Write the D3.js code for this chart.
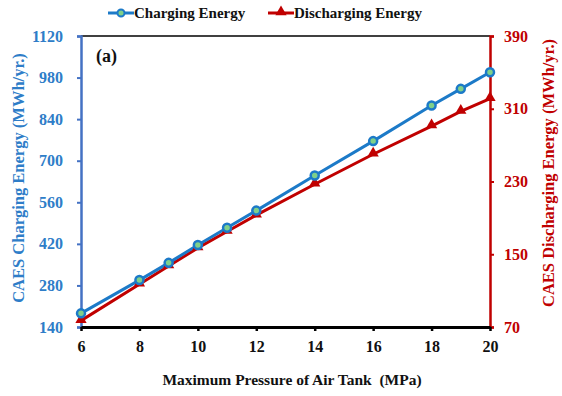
<!DOCTYPE html>
<html>
<head>
<meta charset="utf-8">
<script src="https://cdn.jsdelivr.net/npm/d3@7/dist/d3.min.js"></script>
<style>
  body { margin: 0; background: #fff; }
  text { font-family: "Liberation Serif", "Times New Roman", serif; font-weight: bold; }
</style>
</head>
<body>
<svg id="chart" width="562" height="396"></svg>
<script>
// data
var pressure = [6, 8, 9, 10, 11, 12, 14, 16, 18, 19, 20];
var charging = [186, 298, 356, 416, 474, 532, 650, 766, 886, 942, 998];
var discharging = [77, 117, 137, 157, 175, 193, 227, 260, 291, 307, 321];
var xTicks = [6, 8, 10, 12, 14, 16, 18, 20];
var leftTicks = [140, 280, 420, 560, 700, 840, 980, 1120];
var rightTicks = [70, 150, 230, 310, 390];

var blue = "#1c7ac8", blueAxis = "#4472c4", blueText = "#2e7dc8", red = "#c00000";

var svg = d3.select("#chart");
var pLeft = 81, pRight = 490, pTop = 36, pBottom = 327;

var x = d3.scaleLinear().domain([6, 20]).range([pLeft, pRight]);
var yL = d3.scaleLinear().domain([140, 1120]).range([pBottom, pTop]);
var yR = d3.scaleLinear().domain([70, 390]).range([pBottom, pTop]);

// top frame line
svg.append("line").attr("x1", pLeft).attr("x2", pRight).attr("y1", pTop).attr("y2", pTop)
  .attr("stroke", "#000").attr("stroke-width", 1.5);

// left axis
var gL = svg.append("g").attr("transform", "translate(" + pLeft + ",0)")
  .call(d3.axisLeft(yL).tickValues(leftTicks).tickFormat(d3.format("d")).tickSize(4).tickPadding(14));
gL.select(".domain").attr("stroke", blueAxis).attr("stroke-width", 2.5);
gL.selectAll(".tick line").attr("stroke", blueAxis).attr("stroke-width", 2);
gL.selectAll(".tick text").attr("fill", blueText).attr("font-size", 16)
  .style("font-family", "Liberation Serif").style("font-weight", "bold");

// right axis
var gR = svg.append("g").attr("transform", "translate(" + pRight + ",0)")
  .call(d3.axisRight(yR).tickValues(rightTicks).tickSize(4).tickPadding(10));
gR.select(".domain").attr("stroke", red).attr("stroke-width", 2.5);
gR.selectAll(".tick line").attr("stroke", red).attr("stroke-width", 2);
gR.selectAll(".tick text").attr("fill", red).attr("font-size", 16)
  .style("font-family", "Liberation Serif").style("font-weight", "bold");

// bottom axis
var gX = svg.append("g").attr("transform", "translate(0," + pBottom + ")")
  .call(d3.axisBottom(x).tickValues(xTicks).tickSize(4).tickPadding(10).tickSizeOuter(0));
gX.select(".domain").attr("stroke", "#000").attr("stroke-width", 3);
gX.selectAll(".tick line").attr("stroke", "#000").attr("stroke-width", 2.5);
gX.selectAll(".tick text").attr("fill", "#111").attr("font-size", 16)
  .style("font-family", "Liberation Serif").style("font-weight", "bold");

// lines
var lineC = d3.line().x(function(d, i) { return x(pressure[i]); }).y(function(d) { return yL(d); });
var lineD = d3.line().x(function(d, i) { return x(pressure[i]); }).y(function(d) { return yR(d); });

svg.append("path").datum(discharging).attr("d", lineD)
  .attr("fill", "none").attr("stroke", red).attr("stroke-width", 3);
svg.append("path").datum(charging).attr("d", lineC)
  .attr("fill", "none").attr("stroke", blue).attr("stroke-width", 3);

var tri = d3.symbol().type(d3.symbolTriangle).size(55);
svg.selectAll(".tri").data(discharging).enter().append("path")
  .attr("d", tri)
  .attr("transform", function(d, i) { return "translate(" + x(pressure[i]) + "," + (yR(d) - 1) + ")"; })
  .attr("fill", red);

svg.selectAll(".dot").data(charging).enter().append("circle")
  .attr("cx", function(d, i) { return x(pressure[i]); })
  .attr("cy", function(d) { return yL(d); })
  .attr("r", 4).attr("fill", "#7fd08a").attr("stroke", blue).attr("stroke-width", 2.5);

// legend
var lg = svg.append("g");
lg.append("line").attr("x1", 108).attr("x2", 134).attr("y1", 13).attr("y2", 13)
  .attr("stroke", blue).attr("stroke-width", 3);
lg.append("circle").attr("cx", 121).attr("cy", 13).attr("r", 3.5)
  .attr("fill", "#7fd08a").attr("stroke", blue).attr("stroke-width", 2);
lg.append("text").attr("x", 134).attr("y", 18).attr("font-size", 15).attr("fill", "#111")
  .text("Charging Energy");
lg.append("line").attr("x1", 268).attr("x2", 294).attr("y1", 13).attr("y2", 13)
  .attr("stroke", red).attr("stroke-width", 3);
lg.append("path").attr("d", tri).attr("transform", "translate(281,12)").attr("fill", red);
lg.append("text").attr("x", 294).attr("y", 18).attr("font-size", 15).attr("fill", "#111")
  .text("Discharging Energy");

// panel label
svg.append("text").attr("x", 96).attr("y", 62).attr("font-size", 18).attr("fill", "#111").text("(a)");

// axis titles
svg.append("text").attr("transform", "translate(24,178) rotate(-90)")
  .attr("text-anchor", "middle").attr("font-size", 16.5).attr("fill", blueText)
  .text("CAES Charging Energy (MWh/yr.)");
svg.append("text").attr("transform", "translate(554,173) rotate(-90)")
  .attr("text-anchor", "middle").attr("font-size", 16.5).attr("fill", red)
  .text("CAES Discharging Energy (MWh/yr.)");
svg.append("text").attr("x", 292).attr("y", 385)
  .attr("text-anchor", "middle").attr("font-size", 15.5).attr("fill", "#111")
  .style("white-space", "pre")
  .text("Maximum Pressure of Air Tank  (MPa)");
</script>
</body>
</html>
